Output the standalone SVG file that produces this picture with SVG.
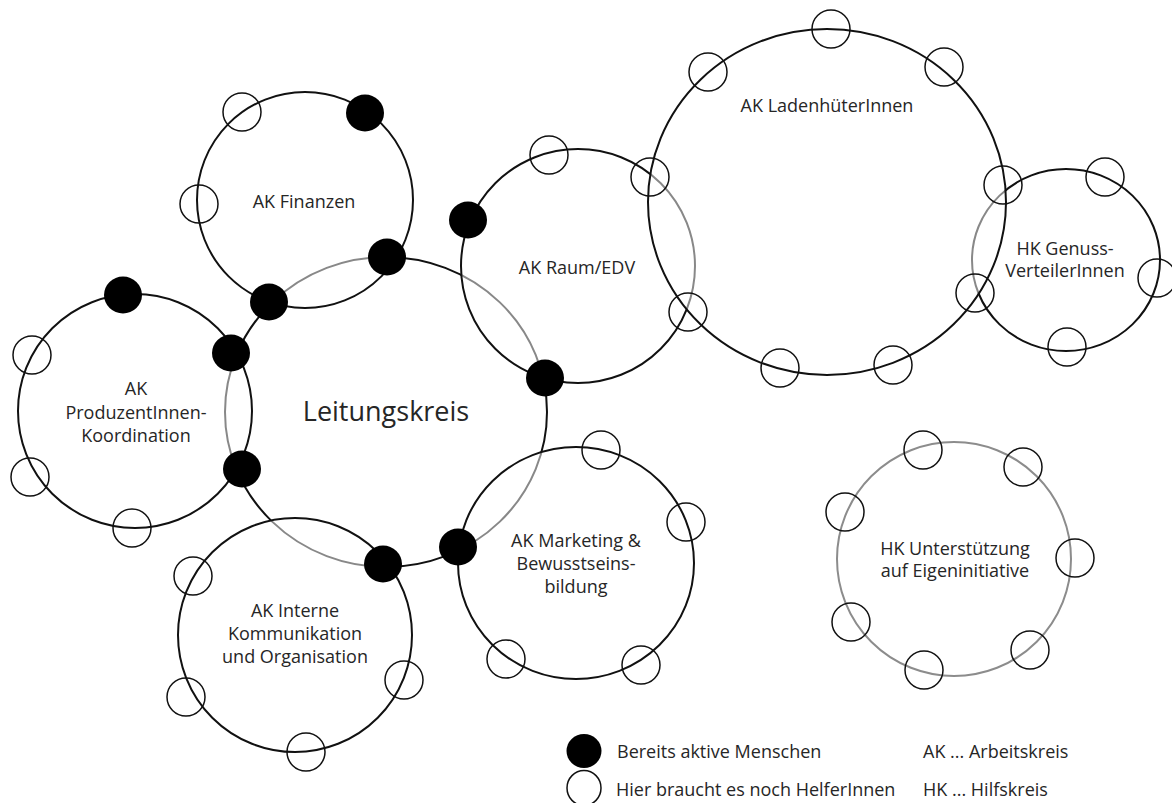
<svg xmlns="http://www.w3.org/2000/svg" width="1172" height="803" viewBox="0 0 1172 803">
<style>
.ring{fill:#fff;fill-opacity:0.5;stroke:#111;stroke-width:2}
.base{fill:none;stroke:#111;stroke-width:2}
.hk{fill:none;stroke:#8c8c8c;stroke-width:2}
.lbl{font-family:"Open Sans","Liberation Sans",sans-serif;font-size:18px;fill:#262626;text-anchor:middle}
.big{font-size:27px}
.leg{font-family:"Open Sans","Liberation Sans",sans-serif;font-size:18px;fill:#262626}
.open{fill:none;stroke:#111;stroke-width:1.5}
.act{fill:#000}
</style>
<rect width="1172" height="803" fill="#fff"/>
<g id="leitungskreis">
<ellipse class="base" cx="386" cy="412" rx="161" ry="155"/>
<text class="lbl big" x="386" y="421">Leitungskreis</text>
</g>
<g id="ak-raum-edv">
<circle class="ring" cx="578" cy="266" r="117"/>
<text class="lbl" x="577" y="274">AK Raum/EDV</text>
</g>
<g id="hk-genuss">
<ellipse class="ring" cx="1066" cy="260" rx="94" ry="91"/>
<text class="lbl" x="1065" y="255">HK Genuss-</text>
<text class="lbl" x="1065" y="277">VerteilerInnen</text>
</g>
<g id="ak-ladenhueter">
<ellipse class="ring" cx="827" cy="202" rx="179" ry="173"/>
<text class="lbl" x="827" y="112">AK LadenhüterInnen</text>
</g>
<g id="ak-finanzen">
<circle class="ring" cx="305" cy="200" r="108"/>
<text class="lbl" x="304" y="208">AK Finanzen</text>
</g>
<g id="ak-produzent">
<circle class="ring" cx="135" cy="411" r="117"/>
<text class="lbl" x="136" y="395">AK</text>
<text class="lbl" x="136" y="419">ProduzentInnen-</text>
<text class="lbl" x="136" y="442">Koordination</text>
</g>
<g id="ak-interne">
<circle class="ring" cx="295" cy="635" r="117"/>
<text class="lbl" x="295" y="617">AK Interne</text>
<text class="lbl" x="295" y="640">Kommunikation</text>
<text class="lbl" x="295" y="663">und Organisation</text>
</g>
<g id="ak-marketing">
<ellipse class="ring" cx="576" cy="563" rx="118" ry="116"/>
<text class="lbl" x="576" y="547">AK Marketing &amp;</text>
<text class="lbl" x="576" y="570">Bewusstseins-</text>
<text class="lbl" x="576" y="593">bildung</text>
</g>
<g id="hk-unterstuetzung">
<circle class="hk" cx="954" cy="559" r="117"/>
<text class="lbl" x="955" y="555">HK Unterstützung</text>
<text class="lbl" x="955" y="577">auf Eigeninitiative</text>
</g>
<g id="members">
<circle class="open" cx="242" cy="112" r="19"/>
<circle class="open" cx="199" cy="204" r="19"/>
<circle class="open" cx="32" cy="355" r="19"/>
<circle class="open" cx="30" cy="477" r="19"/>
<circle class="open" cx="132" cy="528" r="19"/>
<circle class="open" cx="193" cy="576" r="19"/>
<circle class="open" cx="186" cy="697" r="19"/>
<circle class="open" cx="306" cy="752" r="19"/>
<circle class="open" cx="404" cy="680" r="19"/>
<circle class="open" cx="601" cy="450" r="19"/>
<circle class="open" cx="686" cy="522" r="19"/>
<circle class="open" cx="506" cy="659" r="19"/>
<circle class="open" cx="641" cy="665" r="19"/>
<circle class="open" cx="549" cy="155" r="19"/>
<circle class="open" cx="650" cy="177" r="19"/>
<circle class="open" cx="688" cy="312" r="19"/>
<circle class="open" cx="708" cy="72" r="19"/>
<circle class="open" cx="831" cy="29" r="19"/>
<circle class="open" cx="944" cy="67" r="19"/>
<circle class="open" cx="1003" cy="185" r="19"/>
<circle class="open" cx="975" cy="293" r="19"/>
<circle class="open" cx="893" cy="365" r="19"/>
<circle class="open" cx="780" cy="368" r="19"/>
<circle class="open" cx="1105" cy="177" r="19"/>
<circle class="open" cx="1157" cy="278" r="19"/>
<circle class="open" cx="1067" cy="347" r="19"/>
<circle class="open" cx="923" cy="450" r="19"/>
<circle class="open" cx="1023" cy="467" r="19"/>
<circle class="open" cx="845" cy="512" r="19"/>
<circle class="open" cx="1075" cy="558" r="19"/>
<circle class="open" cx="851" cy="622" r="19"/>
<circle class="open" cx="1030" cy="650" r="19"/>
<circle class="open" cx="924" cy="670" r="19"/>
<ellipse class="act" cx="365" cy="113" rx="19" ry="18.5"/>
<ellipse class="act" cx="387" cy="257" rx="19" ry="18.5"/>
<ellipse class="act" cx="269" cy="302" rx="19" ry="18.5"/>
<ellipse class="act" cx="123" cy="295" rx="19" ry="18.5"/>
<ellipse class="act" cx="231" cy="353" rx="19" ry="18.5"/>
<ellipse class="act" cx="242" cy="469" rx="19" ry="18.5"/>
<ellipse class="act" cx="383" cy="564" rx="19" ry="18.5"/>
<ellipse class="act" cx="458" cy="547" rx="19" ry="18.5"/>
<ellipse class="act" cx="545" cy="378" rx="19" ry="18.5"/>
<ellipse class="act" cx="468" cy="220" rx="19" ry="18.5"/>
</g>
<g id="legend">
<ellipse class="act" cx="584" cy="751" rx="17.5" ry="17"/>
<ellipse class="open" cx="584" cy="788" rx="17" ry="17.5"/>
<text class="leg" x="617" y="758">Bereits aktive Menschen</text>
<text class="leg" x="616" y="796">Hier braucht es noch HelferInnen</text>
<text class="leg" x="923" y="758">AK ... Arbeitskreis</text>
<text class="leg" x="923" y="796">HK ... Hilfskreis</text>
</g>
</svg>
